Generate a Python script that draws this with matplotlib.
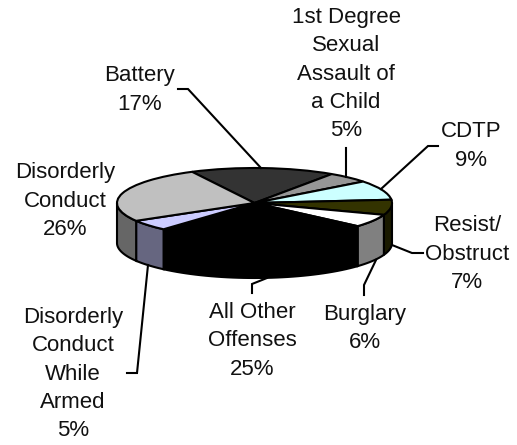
import matplotlib
matplotlib.use("Agg")
import matplotlib.pyplot as plt
import numpy as np

categories = ["Battery", "1st Degree\nSexual\nAssault of\na Child", "CDTP", "Resist/\nObstruct",
              "Burglary", "All Other\nOffenses", "Disorderly\nConduct\nWhile\nArmed", "Disorderly\nConduct"]
values = [17, 5, 9, 7, 6, 25, 5, 26]
top_colors = ["#333333", "#969696", "#CCFFFF", "#333300", "#FFFFFF", "#000000", "#CCCCFF", "#C0C0C0"]
side_colors = ["#1A1A1A", "#4B4B4B", "#668080", "#1A1A00", "#808080", "#000000", "#666680", "#666666"]
label_pos = [(140, 90), (346, 74), (471, 146), (467, 254), (365, 328.5), (252, 341), (73, 374), (65, 201)]

W, H = 517, 445
CX, CY, RX, RY, DEPTH = 254.5, 203.0, 137.5, 35.0, 40.0
START = 117.0

plt.rcParams["font.family"] = ["Liberation Sans", "DejaVu Sans"]
fig = plt.figure(figsize=(W / 100, H / 100), dpi=100)
ax = fig.add_axes([0, 0, 1, 1])

# walls, drawn first
total = sum(values)
angle = START
d = DEPTH / RY
for v, c in zip(values, side_colors):
    a0, a1 = angle - 360 * v / total, angle
    angle = a0
    lo = np.mod(a0, 360)
    hi = lo + (a1 - a0)
    for s in (0, -360):
        l, h = max(lo + s, -180), min(hi + s, 0)
        if h > l:
            t = np.radians(np.linspace(l, h, 40))
            xs = np.r_[np.cos(t), np.cos(t)[::-1]]
            ys = np.r_[np.sin(t), np.sin(t)[::-1] - d]
            ax.fill(xs, ys, facecolor=c, edgecolor="black", linewidth=1.5, zorder=1)

ax.pie(values, colors=top_colors, startangle=START, counterclock=False, radius=1.0,
       wedgeprops={"edgecolor": "black", "linewidth": 1.5, "zorder": 2})
ax.set_aspect("auto")
ax.set_xlim(-CX / RX, (W - CX) / RX)
ax.set_ylim((CY - H) / RY, CY / RY)
ax.axis("off")

# leader lines in pixel coordinates
leaders = [
    [(261, 168), (188, 89), (178, 89)],
    [(346, 177), (346, 148)],
    [(381, 189), (428, 146), (438, 146)],
    [(392, 245), (412, 253), (423, 253)],
    [(376, 260), (364, 285), (364, 295)],
    [(267, 278), (252, 284), (252, 293)],
    [(148, 265), (137, 373), (127, 373)],
]
for seg in leaders:
    xs = np.array([p[0] for p in seg]) / W
    ys = 1 - np.array([p[1] for p in seg]) / H
    fig.add_artist(plt.Line2D(xs, ys, color="black", lw=1.5,
                              transform=fig.transFigure, solid_joinstyle="miter"))

for name, v, p in zip(categories, values, label_pos):
    fig.text(p[0] / W, 1 - p[1] / H, f"{name}\n{v}%", ha="center", va="center",
             fontsize=16, linespacing=1.44, color="#111111")

fig.savefig("out.png", dpi=100)
